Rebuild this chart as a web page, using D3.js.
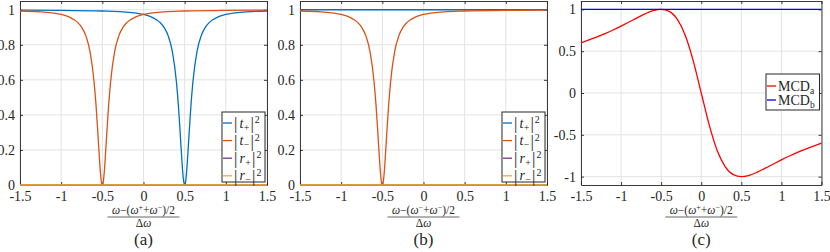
<!DOCTYPE html>
<html lang="en">
  <head>
    <meta charset="UTF-8" />
    <title>Transmission and MCD</title>
    <script src="https://cdn.jsdelivr.net/npm/d3@7"></script>
    <style>
      body { margin: 0; background: #fff; }
    </style>
  </head>
  <body>
    <svg id="svg" width="830" height="252" font-family="'Liberation Serif', 'Times New Roman', 'DejaVu Serif', serif"></svg>
    <script>
      // ---- data ----
      const xTicks = [-1.5, -1, -0.5, 0, 0.5, 1, 1.5];
      const xTickLabels = ["-1.5", "-1", "-0.5", "0", "0.5", "1", "1.5"];
      const yTicksT = [0, 0.2, 0.4, 0.6, 0.8, 1];
      const yTickLabelsT = ["0", "0.2", "0.4", "0.6", "0.8", "1"];
      const yTicksM = [-1, -0.5, 0, 0.5, 1];
      const yTickLabelsM = ["-1", "-0.5", "0", "0.5", "1"];

      // (a) |t+|^2 dips at +0.5, |t-|^2 dips at -0.5
      const tPlusX = [-1.5, -1, -0.5, -0.25, 0, 0.1, 0.2, 0.25, 0.3, 0.35, 0.4, 0.425, 0.45, 0.47, 0.485, 0.5,
        0.515, 0.53, 0.55, 0.575, 0.6, 0.65, 0.7, 0.75, 0.8, 0.9, 1, 1.25, 1.5];
      const tPlusY = [0.998, 0.997, 0.993, 0.988, 0.973, 0.958, 0.928, 0.899, 0.851, 0.763, 0.588, 0.446, 0.263, 0.114, 0.031, 0,
        0.031, 0.114, 0.263, 0.446, 0.588, 0.763, 0.851, 0.899, 0.928, 0.958, 0.973, 0.988, 0.993];
      const tMinusX = [-1.5, -1.25, -1, -0.9, -0.8, -0.75, -0.7, -0.65, -0.6, -0.575, -0.55, -0.53, -0.515, -0.5,
        -0.485, -0.47, -0.45, -0.425, -0.4, -0.35, -0.3, -0.25, -0.2, -0.1, 0, 0.25, 0.5, 1, 1.5];
      const tMinusY = [0.993, 0.988, 0.973, 0.958, 0.928, 0.899, 0.851, 0.763, 0.588, 0.446, 0.263, 0.114, 0.031, 0,
        0.031, 0.114, 0.263, 0.446, 0.588, 0.763, 0.851, 0.899, 0.928, 0.958, 0.973, 0.988, 0.993, 0.997, 0.998];
      const rPlusX = [-1.5, 1.5];
      const rPlusY = [0, 0];
      const rMinusX = [-1.5, 1.5];
      const rMinusY = [0, 0];

      // (b) |t+|^2 stays at 1
      const tPlusFlatX = [-1.5, 1.5];
      const tPlusFlatY = [1, 1];

      // (c)
      const mcdX = [-1.5, -1.4, -1.3, -1.2, -1.1, -1, -0.9, -0.8, -0.7, -0.6, -0.5, -0.4, -0.3, -0.2, -0.1, 0,
        0.1, 0.2, 0.3, 0.4, 0.5, 0.6, 0.7, 0.8, 0.9, 1, 1.1, 1.2, 1.3, 1.4, 1.5];
      const mcdA = [0.6, 0.634, 0.67, 0.71, 0.753, 0.8, 0.849, 0.899, 0.946, 0.984, 1, 0.976, 0.882, 0.69, 0.385, 0,
        -0.385, -0.69, -0.882, -0.976, -1, -0.984, -0.946, -0.899, -0.849, -0.8, -0.753, -0.71, -0.67, -0.634, -0.6];
      const mcdBX = [-1.5, 1.5];
      const mcdB = [1, 1];

      const svg = d3.select("#svg");
      const ink = "#262626";
      const gridColor = "#e3e3e3";
      const plotTop = 1;
      const plotBottom = 185;

      const zip = (xs, ys) => xs.map((x, i) => ({ x: x, y: ys[i] }));

      function drawPanel(p) {
        const x = d3.scaleLinear().domain([-1.5, 1.5]).range([p.left, p.right]);
        const y = d3.scaleLinear().domain(p.yDomain).range([plotBottom, plotTop]);
        const g = svg.append("g");

        // grid
        g.selectAll(".gx").data(p.xTicks).enter().append("line")
          .attr("x1", d => x(d)).attr("x2", d => x(d))
          .attr("y1", plotTop).attr("y2", plotBottom)
          .attr("stroke", gridColor).attr("stroke-width", 1);
        g.selectAll(".gy").data(p.yTicks).enter().append("line")
          .attr("x1", p.left).attr("x2", p.right)
          .attr("y1", d => y(d)).attr("y2", d => y(d))
          .attr("stroke", gridColor).attr("stroke-width", 1);

        // axes (ticks inside, on all four sides)
        const axB = g.append("g").attr("transform", `translate(0,${plotBottom})`)
          .call(d3.axisBottom(x).tickValues(p.xTicks).tickSize(-3).tickSizeOuter(0).tickPadding(6)
            .tickFormat((d, i) => p.xLabels[i]));
        const axT = g.append("g").attr("transform", `translate(0,${plotTop})`)
          .call(d3.axisTop(x).tickValues(p.xTicks).tickSize(-3).tickSizeOuter(0).tickFormat(""));
        const axL = g.append("g").attr("transform", `translate(${p.left},0)`)
          .call(d3.axisLeft(y).tickValues(p.yTicks).tickSize(-3).tickSizeOuter(0).tickPadding(5)
            .tickFormat((d, i) => p.yLabels[i]));
        const axR = g.append("g").attr("transform", `translate(${p.right},0)`)
          .call(d3.axisRight(y).tickValues(p.yTicks).tickSize(-3).tickSizeOuter(0).tickFormat(""));
        [axB, axT, axL, axR].forEach(a => {
          a.attr("font-family", null).attr("font-size", 14);
          a.selectAll("path, line").attr("stroke", ink).attr("stroke-width", 0.9);
          a.selectAll("text").attr("fill", ink);
        });

        // curves
        const line = d3.line().x(d => x(d.x)).y(d => y(d.y)).curve(d3.curveMonotoneX);
        p.series.forEach(s => {
          g.append("path").datum(zip(s.x, s.y))
            .attr("d", line).attr("fill", "none")
            .attr("stroke", s.color).attr("stroke-width", 1.3);
        });

        // legend
        const lg = g.append("g");
        lg.append("rect")
          .attr("x", p.legend.x).attr("y", p.legend.y)
          .attr("width", p.legend.w).attr("height", p.legend.h)
          .attr("fill", "#fff").attr("stroke", ink).attr("stroke-width", 1);
        p.series.forEach((s, i) => {
          const ly = p.legend.y + p.legend.first + i * p.legend.step;
          lg.append("line")
            .attr("x1", p.legend.x + 1).attr("x2", p.legend.x + 10)
            .attr("y1", ly).attr("y2", ly)
            .attr("stroke", s.color).attr("stroke-width", 1.3);
          const t = lg.append("text")
            .attr("x", p.legend.x + 12).attr("y", ly + 4.5)
            .attr("font-size", 14).attr("fill", ink);
          s.label(t);
        });

        // x label: fraction
        const cx = (p.left + p.right) / 2;
        const num = g.append("text").attr("x", cx).attr("y", 214)
          .attr("text-anchor", "middle").attr("font-size", 11.5).attr("fill", ink);
        num.append("tspan").attr("font-style", "italic").text("ω");
        num.append("tspan").text("−(");
        num.append("tspan").attr("font-style", "italic").text("ω");
        num.append("tspan").attr("font-size", 8).attr("dy", -4).text(p.sup1);
        num.append("tspan").attr("dy", 4).text("+");
        num.append("tspan").attr("font-style", "italic").text("ω");
        num.append("tspan").attr("font-size", 8).attr("dy", -4).text("−");
        num.append("tspan").attr("dy", 4).text(")/2");
        g.append("line")
          .attr("x1", cx - 36).attr("x2", cx + 36)
          .attr("y1", 217).attr("y2", 217)
          .attr("stroke", ink).attr("stroke-width", 0.7);
        const den = g.append("text").attr("x", cx).attr("y", 226.5)
          .attr("text-anchor", "middle").attr("font-size", 11.5).attr("fill", ink);
        den.append("tspan").text("Δ");
        den.append("tspan").attr("font-style", "italic").text("ω");

        g.append("text").attr("x", cx).attr("y", 245)
          .attr("text-anchor", "middle").attr("font-size", 17).attr("fill", ink)
          .text(p.tag);
      }

      // legend label builders
      function absSq(letter, sign) {
        return t => {
          t.append("tspan").attr("font-size", 17).attr("dy", 1.5).text("|");
          t.append("tspan").attr("font-style", "italic").attr("dx", 2).attr("dy", -1.5).text(letter);
          t.append("tspan").attr("font-size", 10).attr("dx", 0.5).attr("dy", 3).text(sign);
          t.append("tspan").attr("font-size", 17).attr("dx", 1).attr("dy", -1.5).text("|");
          t.append("tspan").attr("font-size", 10).attr("dx", 1).attr("dy", -6).text("2");
        };
      }
      function mcd(sub) {
        return t => {
          t.append("tspan").text("MCD");
          t.append("tspan").attr("font-size", 9.5).attr("dy", 3).text(sub);
        };
      }

      const colBlue = "#0072BD";
      const colOrange = "#D95319";
      const colPurple = "#7E2F8E";
      const colYellow = "#EDB120";

      const tLegend = { x: 222, y: 112, w: 43, h: 70, first: 11, step: 17.6 };

      drawPanel({
        left: 20, right: 267, yDomain: [0, 1.05],
        xTicks: xTicks, xLabels: xTickLabels, yTicks: yTicksT, yLabels: yTickLabelsT,
        sup1: "+", tag: "(a)",
        legend: tLegend,
        series: [
          { x: tPlusX, y: tPlusY, color: colBlue, label: absSq("t", "+") },
          { x: tMinusX, y: tMinusY, color: colOrange, label: absSq("t", "−") },
          { x: rPlusX, y: rPlusY, color: colPurple, label: absSq("r", "+") },
          { x: rMinusX, y: rMinusY, color: colYellow, label: absSq("r", "−") }
        ]
      });

      drawPanel({
        left: 300, right: 547, yDomain: [0, 1.05],
        xTicks: xTicks, xLabels: xTickLabels, yTicks: yTicksT, yLabels: yTickLabelsT,
        sup1: "−", tag: "(b)",
        legend: Object.assign({}, tLegend, { x: 502 }),
        series: [
          { x: tPlusFlatX, y: tPlusFlatY, color: colBlue, label: absSq("t", "+") },
          { x: tMinusX, y: tMinusY, color: colOrange, label: absSq("t", "−") },
          { x: rPlusX, y: rPlusY, color: colPurple, label: absSq("r", "+") },
          { x: rMinusX, y: rMinusY, color: colYellow, label: absSq("r", "−") }
        ]
      });

      drawPanel({
        left: 581, right: 821.5, yDomain: [-1.1, 1.1],
        xTicks: xTicks, xLabels: xTickLabels, yTicks: yTicksM, yLabels: yTickLabelsM,
        sup1: "+", tag: "(c)",
        legend: { x: 766, y: 74, w: 53.5, h: 36, first: 12, step: 14 },
        series: [
          { x: mcdX, y: mcdA, color: "#FF0000", label: mcd("a") },
          { x: mcdBX, y: mcdB, color: "#0000FF", label: mcd("b") }
        ]
      });
    </script>
  </body>
</html>
